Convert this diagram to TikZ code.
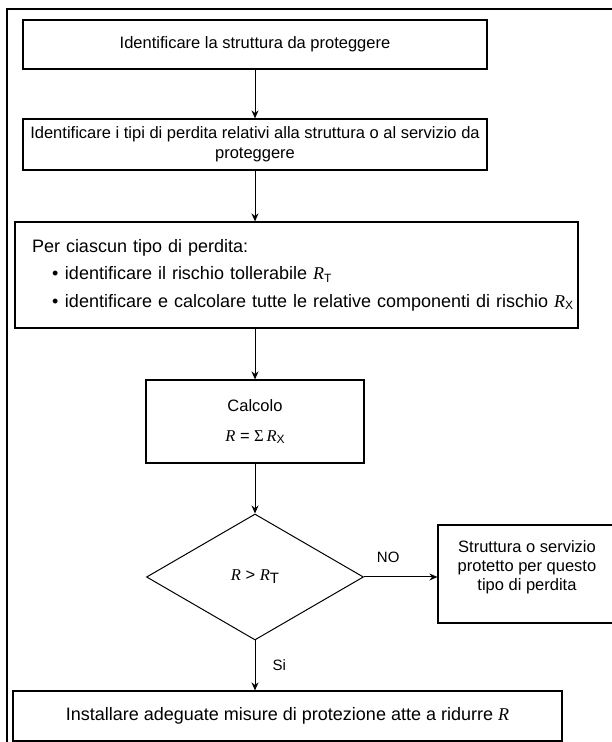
\documentclass[tikz,border=0pt]{standalone}
\usepackage{fontspec}
\setmainfont{Liberation Sans}
\newfontfamily\tnr{Liberation Serif}
\usepackage{tikz}
\usetikzlibrary{arrows.meta}
\usetikzlibrary{shapes.geometric}
\newcommand{\Rit}{{\tnr\itshape R}}
\newcommand{\pedice}[1]{\raisebox{-2.5pt}{\fontsize{12}{12}\selectfont #1}}

\begin{document}
\begin{tikzpicture}[x=1pt,y=1pt,
  box/.style={draw, line width=1.2pt, inner sep=0pt, align=center},
  line/.style={-{Stealth[length=8pt,width=7pt]}, line width=1pt},
  lbl/.style={inner sep=0pt, font=\fontsize{15}{15}\selectfont}]
\useasboundingbox (0,0) rectangle (612,742);
\draw[line width=1.7pt] (7,0) -- (7,733) -- (612,733);
% blocchi
\node[box, minimum width=464pt, minimum height=49pt, font=\fontsize{16.5}{20}\selectfont] (ident) at (255,697.5) {Identificare la struttura da proteggere};
\node[box, minimum width=464pt, minimum height=51pt, font=\fontsize{16.5}{20}\selectfont] (tipi) at (255,597.5) {Identificare i tipi di perdita relativi alla struttura o al servizio da\\proteggere};
\node[box, minimum width=563pt, minimum height=106pt, text width=529pt, align=left, font=\fontsize{18}{27.5}\selectfont] (perdita) at (296.5,467) {Per ciascun tipo di perdita:\\
\hspace*{20pt}\makebox[13pt][l]{•}identificare il rischio tollerabile \Rit\pedice{T}\\
\mbox{\hspace*{20pt}\makebox[13pt][l]{•}identificare e calcolare tutte le relative componenti di rischio \Rit\pedice{X}}};
\node[box, minimum width=218pt, minimum height=83pt, font=\fontsize{16.5}{30}\selectfont] (calc) at (255,320.5) {Calcolo\\\Rit{} = {\tnr Σ}\,\Rit\pedice{X}};
\node[draw, shape=diamond, line width=1pt, minimum width=217pt, minimum height=126pt, inner sep=0pt, font=\fontsize{16.5}{20}\selectfont] (dec) at (255,165) {\Rit{} > \Rit\raisebox{-3pt}{\fontsize{15}{15}\selectfont T}};
\node[box, minimum width=178pt, minimum height=98pt, font=\fontsize{16.5}{19}\selectfont] (prot) at (527,168) {Struttura o servizio\\protetto per questo\\tipo di perdita\rule[-16pt]{0pt}{0pt}};
\node[box, minimum width=549pt, minimum height=50pt, font=\fontsize{18}{20}\selectfont] (inst) at (287.5,26) {Installare adeguate misure di protezione atte a ridurre \Rit};
% frecce
\draw[line] (ident.south) -- (tipi.north);
\draw[line] (tipi.south) -- (tipi.south |- perdita.north);
\draw[line] (perdita.south -| calc.north) -- (calc.north);
\draw[line] (calc.south) -- (dec.north);
\draw[line] (dec.east) -- (dec.east -| prot.west) node[lbl, pos=0.33, above=14pt] {NO};
\draw[line] (dec.south) -- (dec.south |- inst.north) node[lbl, midway, right=17pt] {Si};
\end{tikzpicture}
\end{document}
